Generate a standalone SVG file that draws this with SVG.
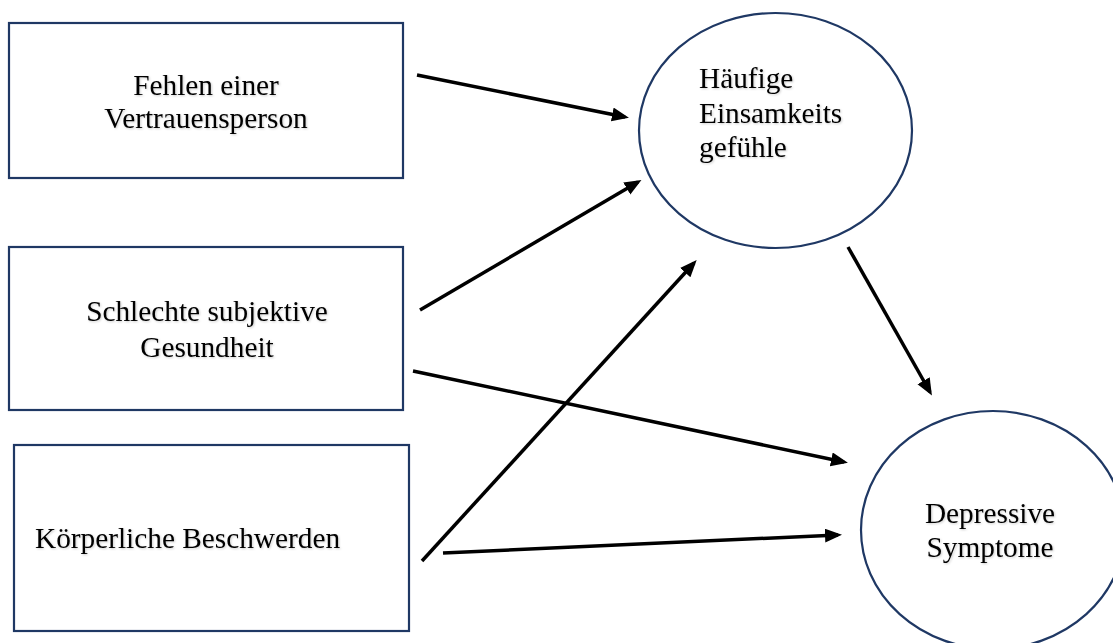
<svg xmlns="http://www.w3.org/2000/svg" width="1113" height="643" viewBox="0 0 1113 643">
  <defs>
    <style>
      .box { fill: #ffffff; stroke: #1f3864; stroke-width: 2.2; }
      .oval { fill: #ffffff; stroke: #1f3864; stroke-width: 2.2; }
      .lbl { font-family: "Liberation Serif", "Times New Roman", serif; font-size: 29.3px; fill: #000000; filter: url(#sh); }
      .mid { text-anchor: middle; }
      .edge { stroke: #000000; stroke-width: 3.5; fill: none; marker-end: url(#arr); }
    </style>
    <filter id="sh" x="-10%" y="-30%" width="120%" height="160%">
      <feDropShadow dx="1" dy="1" stdDeviation="1" flood-color="#000000" flood-opacity="0.2"/>
    </filter>
    <marker id="arr" markerUnits="userSpaceOnUse" markerWidth="18" markerHeight="16" refX="13" refY="7" orient="auto">
      <path d="M0,0 L17,7 L0,14 z" fill="#000000"/>
    </marker>
  </defs>
  <rect width="1113" height="643" fill="#ffffff"/>

  <g id="node-vertrauensperson">
    <rect class="box" x="9" y="23" width="394" height="155"/>
    <text class="lbl mid" x="206" y="95">Fehlen einer</text>
    <text class="lbl mid" x="206" y="128">Vertrauensperson</text>
  </g>

  <g id="node-gesundheit">
    <rect class="box" x="9" y="247" width="394" height="163"/>
    <text class="lbl mid" x="207" y="321">Schlechte subjektive</text>
    <text class="lbl mid" x="207" y="357">Gesundheit</text>
  </g>

  <g id="node-beschwerden">
    <rect class="box" x="14" y="445" width="395" height="186"/>
    <text class="lbl" x="35" y="548">Körperliche Beschwerden</text>
  </g>

  <g id="node-einsamkeit">
    <ellipse class="oval" cx="775.5" cy="130.5" rx="136.5" ry="117.5"/>
    <text class="lbl" x="699" y="88">Häufige</text>
    <text class="lbl" x="699" y="123">Einsamkeits</text>
    <text class="lbl" x="699" y="157">gefühle</text>
  </g>

  <g id="node-depressiv">
    <ellipse class="oval" cx="993" cy="530" rx="132" ry="119"/>
    <text class="lbl mid" x="990" y="523">Depressive</text>
    <text class="lbl mid" x="990" y="557">Symptome</text>
  </g>

  <g id="connectors">
    <line class="edge" x1="417" y1="75" x2="625" y2="117"/>
    <line class="edge" x1="420" y1="310" x2="638" y2="182"/>
    <line class="edge" x1="422" y1="561" x2="694" y2="263"/>
    <line class="edge" x1="413" y1="371" x2="844" y2="462"/>
    <line class="edge" x1="443" y1="553" x2="838" y2="535"/>
    <line class="edge" x1="848" y1="247" x2="930" y2="392"/>
  </g>
</svg>
